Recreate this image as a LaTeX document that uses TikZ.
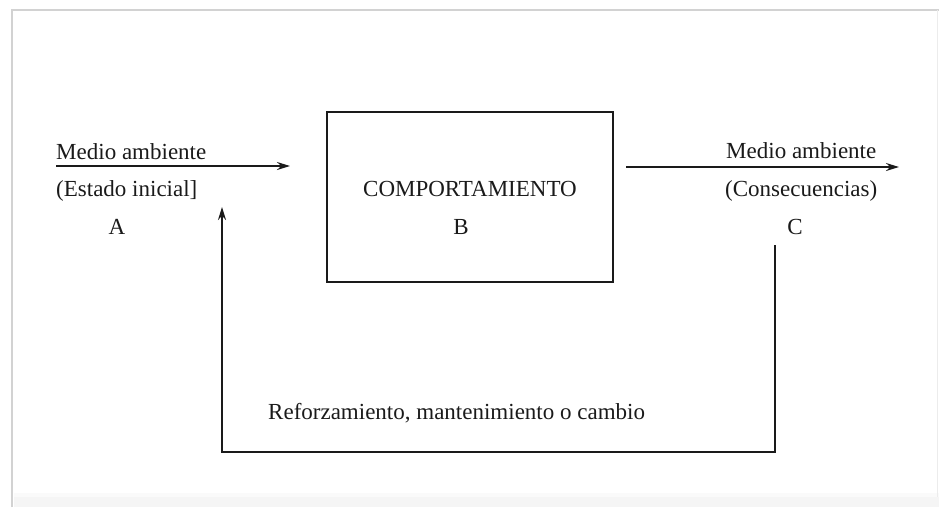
\documentclass[tikz,border=0pt]{standalone}
\usepackage{fontspec}
\setmainfont{Liberation Serif}
\usetikzlibrary{arrows.meta}
\definecolor{ink}{HTML}{1A1A1A}
\tikzset{
  lbl/.style={inner sep=0pt, text=ink, font=\fontsize{23}{26}\selectfont},
  conn/.style={draw=ink, line width=2pt},
  arr/.style={conn, -{Stealth[length=13pt,width=8pt]}},
  boxB/.style={draw=ink, line width=2pt, minimum width=286pt, minimum height=170pt, inner sep=0pt}
}
\begin{document}
\begin{tikzpicture}[x=1pt,y=-1pt]
\useasboundingbox (0,0) rectangle (939,507);
% frame
\fill[gray!8] (14,497) rectangle (939,507);
\fill[gray!4] (14,493) rectangle (939,497);
\draw[gray!35, line width=2pt] (12,507) -- (12,10) -- (939,10);
\draw[gray!15, line width=1pt] (937,10) -- (937,497);
% box
\node[boxB] (B) at (470,197) {};
\node[lbl] (Bt) at (470,189) {COMPORTAMIENTO};
\node[lbl] (Bl) at (461,227) {B};
% left
\coordinate (L0) at (56,166);
\coordinate (L1) at (290,166);
\draw[arr] (L0) -- (L1);
\node[lbl, anchor=base west] (A1) at (56,159) {Medio ambiente};
\node[lbl, anchor=base west] (A2) at (56,196) {(Estado inicial]};
\node[lbl] (A) at (117,227) {A};
% right
\coordinate (R0) at (626,167);
\coordinate (R1) at (899,167);
\draw[arr] (R0) -- (R1);
\node[lbl, anchor=base west] (C1) at (726,158) {Medio ambiente};
\node[lbl, anchor=base west] (C2) at (725,196) {(Consecuencias)};
\node[lbl] (C) at (795,227) {C};
% feedback
\coordinate (F0) at (775,245);
\coordinate (F1) at (775,452);
\coordinate (F2) at (222,452);
\coordinate (F3) at (222,207);
\draw[arr] (F0) -- (F1) -- (F2) -- (F3);
\node[lbl, anchor=base west] (Rf) at (268,419) {Reforzamiento, mantenimiento o cambio};
\end{tikzpicture}
\end{document}
